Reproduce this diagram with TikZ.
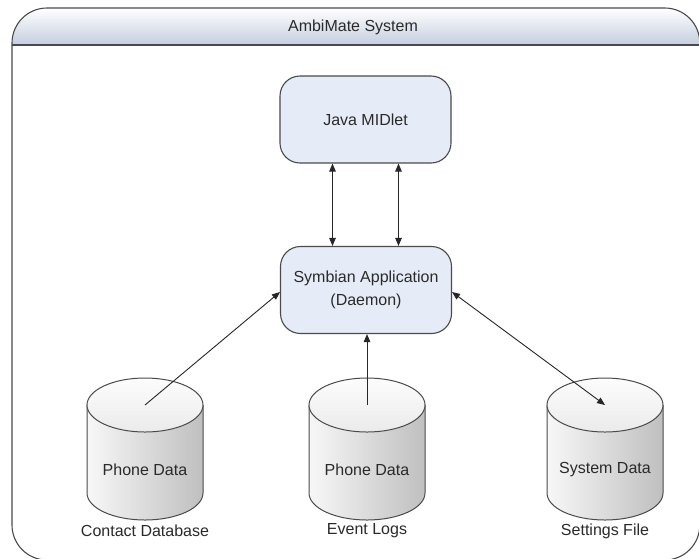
\documentclass[tikz,border=0pt]{standalone}
\usepackage{fontspec}
\setmainfont{Liberation Sans}
\usetikzlibrary{arrows.meta}
\definecolor{boxfill}{HTML}{E6ECF7}
\definecolor{edgec}{HTML}{4A4A4A}
\definecolor{hdr}{HTML}{C4CEDF}
\definecolor{txt}{HTML}{2A2A2A}
\newcommand\dbcyl[1]{%
  \shade[left color=gray!6, right color=gray!50]
    (#1-58,405) -- (#1-58,493) arc[start angle=180,end angle=360,x radius=58pt,y radius=27pt]
    -- (#1+58,405) arc[start angle=0,end angle=180,x radius=58pt,y radius=27pt] -- cycle;
  \draw[draw=edgec, line width=1pt]
    (#1-58,405) -- (#1-58,493) arc[start angle=180,end angle=360,x radius=58pt,y radius=27pt]
    -- (#1+58,405);
  \shade[top color=gray!2, bottom color=gray!16] (#1,405) ellipse[x radius=58pt, y radius=27pt];
  \draw[draw=edgec, line width=1pt] (#1,405) ellipse[x radius=58pt, y radius=27pt];
}
\begin{document}
\begin{tikzpicture}[x=1pt,y=-1pt,
  procbox/.style={draw=edgec, line width=1.1pt, fill=boxfill, rounded corners=20pt,
    minimum width=171pt, minimum height=87pt, align=center, text=txt,
    font=\fontsize{16}{23}\selectfont},
  lbl/.style={text=txt, font=\fontsize{16}{19}\selectfont, inner sep=0pt},
  conn/.style={draw=black!85, line width=0.9pt},
  tipend/.style={-{Triangle[length=8pt,width=6.5pt]}},
  tipboth/.style={{Triangle[length=8pt,width=6.5pt]}-{Triangle[length=8pt,width=6.5pt]}}
]
\useasboundingbox (0,0) rectangle (699,558);
% frame
\fill[white, rounded corners=35pt] (12,560) rectangle (699.8,8);
\begin{scope}
  \clip[rounded corners=35pt] (12,560) rectangle (699.8,8);
  \shade[top color=white, bottom color=hdr] (12,8) rectangle (699.8,45);
\end{scope}
\draw[edgec, line width=1.1pt, rounded corners=35pt] (12,560) rectangle (699.8,8);
\draw[edgec, line width=1.4pt] (12,45) -- (699.8,45);
\node[lbl] (title) at (353,27) {AmbiMate System};

% process boxes
\node[procbox] (java) at (365.5,119.5) {Java MIDlet};
\node[procbox] (sym) at (366,290) {Symbian Application\\(Daemon)};

% databases
\dbcyl{145}
\dbcyl{367}
\dbcyl{605}
\coordinate (db1) at (145,405);
\coordinate (db2) at (367,405);
\coordinate (db3) at (605,405);
\node[lbl] (db1t) at (145,470) {Phone Data};
\node[lbl] (db2t) at (367,470) {Phone Data};
\node[lbl] (db3t) at (605,470) {System Data};
\node[lbl] (db1l) at (145,531) {Contact Database};
\node[lbl] (db2l) at (367,531) {Event Logs};
\node[lbl] (db3l) at (605,531) {Settings File};

% connectors
\draw[conn, tipboth] ([xshift=-33pt]java.south) -- ([xshift=-33pt]java.south |- sym.north);
\draw[conn, tipboth] ([xshift=33pt]java.south) -- ([xshift=33pt]java.south |- sym.north);
\draw[conn, tipend] (db1) -- ([yshift=-2pt]sym.west);
\draw[conn, tipend] (db2) -- (db2 |- sym.south);
\draw[conn, tipboth] ([yshift=-2pt]sym.east) -- (db3);
\end{tikzpicture}
\end{document}
